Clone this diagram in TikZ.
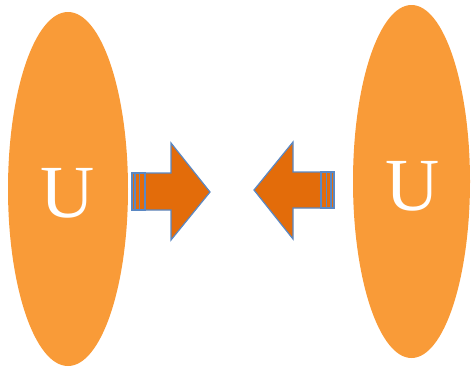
\documentclass[tikz,border=0pt]{standalone}
\usepackage{fontspec}
\setmainfont{Liberation Serif}
\definecolor{blobfill}{HTML}{F99B38}
\definecolor{arrowfill}{HTML}{E36C0A}
\definecolor{arrowline}{HTML}{5A88C4}
\tikzset{
  blob/.style={ellipse, fill=blobfill, draw=none, inner sep=0pt},
  letter/.style={text=white, font=\fontsize{75}{75}\selectfont},
  arrowbody/.style={fill=arrowfill, draw=arrowline, line width=1.2pt, line join=miter},
}
\usetikzlibrary{shapes.geometric}
\begin{document}
\begin{tikzpicture}[x=1pt,y=-1pt]
  \useasboundingbox (0,0) rectangle (471,368);
  % two large particles
  \node[blob, minimum width=120pt, minimum height=354pt] (pl) at (68,189) {};
  \node[blob, minimum width=117pt, minimum height=353pt] (pr) at (411.5,181.5) {};
  \node[letter] (ul) at (68,193) {U};
  \node[letter] (ur) at (413,186) {U};
  % striped arrow pointing right
  \draw[arrowbody] (145,173) -- (171,173) -- (171,143) -- (210,192)
    -- (171,240) -- (171,210) -- (145,210) -- cycle;
  \draw[arrowbody] (139.5,173) rectangle (145,210);
  \draw[arrowbody] (135,173) rectangle (139.5,210);
  \draw[arrowbody] (132,173) rectangle (135,210);
  % striped arrow pointing left
  \draw[arrowbody] (321,172) -- (293,172) -- (293,142) -- (254,190)
    -- (293,239) -- (293,208) -- (321,208) -- cycle;
  \draw[arrowbody] (321,172) rectangle (326.5,208);
  \draw[arrowbody] (326.5,172) rectangle (331,208);
  \draw[arrowbody] (331,172) rectangle (334,208);
\end{tikzpicture}
\end{document}
